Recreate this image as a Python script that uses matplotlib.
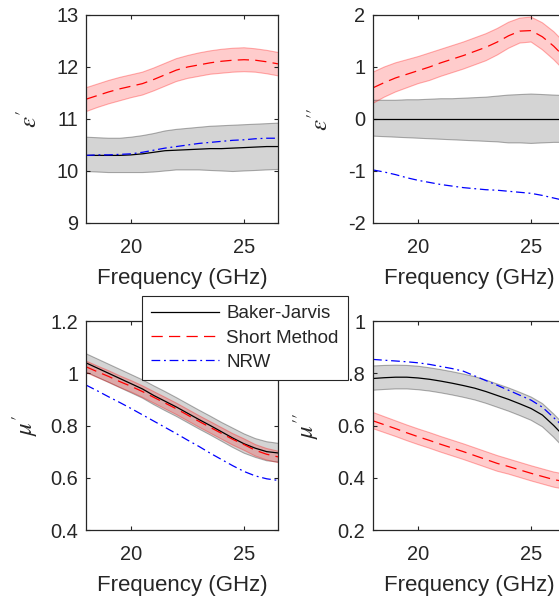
"""Four-panel permittivity / permeability comparison (K-band, 18-26.5 GHz)."""
import matplotlib
matplotlib.use("Agg")
import matplotlib.pyplot as plt
import numpy as np

# frequency grid (GHz)
freq = [18, 18.5, 19, 19.5, 20, 20.5, 21, 21.5, 22, 22.5,
        23, 23.5, 24, 24.5, 25, 25.5, 26, 26.5]

# --- eps' ---
eps1_bj = [10.30, 10.30, 10.30, 10.30, 10.31, 10.33, 10.36, 10.39, 10.40, 10.41,
           10.42, 10.43, 10.43, 10.44, 10.45, 10.46, 10.47, 10.47]
eps1_bj_hi = [10.65, 10.64, 10.63, 10.63, 10.65, 10.68, 10.72, 10.77, 10.80, 10.82,
              10.84, 10.86, 10.87, 10.88, 10.89, 10.90, 10.91, 10.92]
eps1_bj_lo = [9.99, 9.98, 9.97, 9.97, 9.97, 9.97, 9.98, 10.00, 10.02, 10.02,
              10.02, 10.01, 10.00, 9.99, 10.00, 10.01, 10.02, 10.03]
eps1_sm = [11.38, 11.45, 11.52, 11.58, 11.63, 11.68, 11.76, 11.85, 11.94, 12.00,
           12.04, 12.08, 12.11, 12.13, 12.14, 12.13, 12.10, 12.06]
eps1_sm_hi = [11.60, 11.67, 11.74, 11.80, 11.85, 11.90, 11.98, 12.07, 12.16, 12.22,
              12.27, 12.31, 12.34, 12.36, 12.37, 12.35, 12.32, 12.28]
eps1_sm_lo = [11.14, 11.22, 11.29, 11.35, 11.41, 11.46, 11.54, 11.63, 11.72, 11.78,
              11.82, 11.86, 11.88, 11.90, 11.91, 11.90, 11.87, 11.83]
eps1_nrw = [10.30, 10.31, 10.31, 10.32, 10.33, 10.36, 10.40, 10.44, 10.47, 10.50,
            10.53, 10.55, 10.57, 10.59, 10.60, 10.62, 10.63, 10.63]

# --- eps'' ---
eps2_bj = [0.0] * 18
eps2_bj_hi = [0.36, 0.36, 0.36, 0.37, 0.37, 0.38, 0.39, 0.39, 0.40, 0.41,
              0.42, 0.44, 0.46, 0.47, 0.48, 0.47, 0.46, 0.45]
eps2_bj_lo = [-0.33, -0.34, -0.35, -0.36, -0.37, -0.38, -0.39, -0.40, -0.41, -0.42,
              -0.43, -0.44, -0.46, -0.46, -0.47, -0.46, -0.45, -0.45]
eps2_sm = [0.60, 0.70, 0.79, 0.86, 0.93, 1.00, 1.08, 1.15, 1.22, 1.30,
           1.38, 1.48, 1.60, 1.69, 1.70, 1.58, 1.40, 1.18]
eps2_sm_hi = [0.90, 1.00, 1.08, 1.14, 1.20, 1.27, 1.34, 1.41, 1.48, 1.56,
              1.64, 1.74, 1.86, 1.94, 1.96, 1.85, 1.68, 1.46]
eps2_sm_lo = [0.30, 0.42, 0.52, 0.60, 0.68, 0.74, 0.82, 0.89, 0.96, 1.04,
              1.12, 1.23, 1.36, 1.46, 1.48, 1.33, 1.14, 0.92]
eps2_nrw = [-0.98, -1.02, -1.07, -1.13, -1.18, -1.22, -1.26, -1.29, -1.32, -1.34,
            -1.36, -1.37, -1.39, -1.41, -1.43, -1.47, -1.52, -1.57]

# --- mu' ---
mu1_bj = [1.040, 1.020, 1.000, 0.980, 0.960, 0.940, 0.915, 0.893, 0.871, 0.847,
          0.823, 0.800, 0.776, 0.752, 0.730, 0.713, 0.700, 0.695]
mu1_bj_hi = [1.075, 1.055, 1.035, 1.015, 0.995, 0.975, 0.952, 0.930, 0.907, 0.883,
             0.859, 0.836, 0.812, 0.790, 0.768, 0.750, 0.738, 0.732]
mu1_bj_lo = [1.005, 0.985, 0.965, 0.945, 0.925, 0.905, 0.880, 0.857, 0.835, 0.811,
             0.787, 0.764, 0.740, 0.716, 0.694, 0.678, 0.665, 0.660]
mu1_sm = [1.025, 1.006, 0.988, 0.968, 0.950, 0.930, 0.908, 0.886, 0.864, 0.840,
          0.816, 0.793, 0.770, 0.747, 0.727, 0.705, 0.690, 0.680]
mu1_sm_hi = [1.047, 1.028, 1.010, 0.990, 0.972, 0.952, 0.930, 0.908, 0.886, 0.862,
             0.838, 0.815, 0.792, 0.769, 0.749, 0.727, 0.712, 0.702]
mu1_sm_lo = [1.003, 0.984, 0.966, 0.946, 0.928, 0.908, 0.886, 0.864, 0.842, 0.818,
             0.794, 0.771, 0.748, 0.725, 0.705, 0.683, 0.668, 0.658]
mu1_nrw = [0.955, 0.933, 0.910, 0.888, 0.865, 0.841, 0.817, 0.793, 0.769, 0.744,
           0.720, 0.694, 0.670, 0.646, 0.624, 0.607, 0.596, 0.590]

# --- mu'' ---
mu2_bj = [0.780, 0.783, 0.785, 0.785, 0.782, 0.777, 0.770, 0.762, 0.753, 0.743,
          0.730, 0.715, 0.700, 0.683, 0.665, 0.640, 0.600, 0.555]
mu2_bj_hi = [0.828, 0.830, 0.831, 0.830, 0.827, 0.821, 0.814, 0.806, 0.797, 0.787,
             0.774, 0.759, 0.744, 0.727, 0.709, 0.684, 0.644, 0.600]
mu2_bj_lo = [0.735, 0.738, 0.740, 0.740, 0.737, 0.732, 0.725, 0.717, 0.708, 0.698,
             0.685, 0.670, 0.655, 0.638, 0.620, 0.595, 0.555, 0.510]
mu2_sm = [0.618, 0.603, 0.588, 0.572, 0.557, 0.543, 0.528, 0.514, 0.500, 0.485,
          0.470, 0.455, 0.443, 0.430, 0.417, 0.405, 0.393, 0.385]
mu2_sm_hi = [0.650, 0.634, 0.618, 0.602, 0.587, 0.573, 0.558, 0.544, 0.530, 0.515,
             0.500, 0.485, 0.472, 0.459, 0.446, 0.434, 0.422, 0.414]
mu2_sm_lo = [0.588, 0.573, 0.558, 0.542, 0.527, 0.513, 0.498, 0.484, 0.470, 0.455,
             0.440, 0.425, 0.414, 0.401, 0.388, 0.376, 0.364, 0.356]
mu2_nrw = [0.853, 0.850, 0.847, 0.844, 0.840, 0.834, 0.826, 0.818, 0.808, 0.790,
           0.772, 0.754, 0.735, 0.716, 0.697, 0.670, 0.630, 0.590]

series_names = ["Baker-Jarvis", "Short Method", "NRW"]

panels = [
    # (position, ylabel, ylim, yticks, bj, bj_hi, bj_lo, sm, sm_hi, sm_lo, nrw, ylabel x)
    ([0.1538, 0.6308, 0.3435, 0.3444], r"$\epsilon'$", (9, 13), [9, 10, 11, 12, 13],
     eps1_bj, eps1_bj_hi, eps1_bj_lo, eps1_sm, eps1_sm_hi, eps1_sm_lo, eps1_nrw, -0.23),
    ([0.6673, 0.6308, 0.3435, 0.3444], r"$\epsilon''$", (-2, 2), [-2, -1, 0, 1, 2],
     eps2_bj, eps2_bj_hi, eps2_bj_lo, eps2_sm, eps2_sm_hi, eps2_sm_lo, eps2_nrw, -0.21),
    ([0.1538, 0.1225, 0.3435, 0.3460], r"$\mu'$", (0.4, 1.2), [0.4, 0.6, 0.8, 1.0, 1.2],
     mu1_bj, mu1_bj_hi, mu1_bj_lo, mu1_sm, mu1_sm_hi, mu1_sm_lo, mu1_nrw, -0.24),
    ([0.6673, 0.1225, 0.3435, 0.3460], r"$\mu''$", (0.2, 1.0), [0.2, 0.4, 0.6, 0.8, 1.0],
     mu2_bj, mu2_bj_hi, mu2_bj_lo, mu2_sm, mu2_sm_hi, mu2_sm_lo, mu2_nrw, -0.27),
]

TXT = "#262626"
plt.rcParams["font.family"] = ["Liberation Sans", "DejaVu Sans"]
plt.rcParams["mathtext.fontset"] = "stix"
plt.rcParams["axes.unicode_minus"] = False

fig = plt.figure(figsize=(5.59, 6.04), dpi=100)
handles = None
for (pos, ylab, ylim, yt, bj, bjh, bjl, sm, smh, sml, nrw, lx) in panels:
    ax = fig.add_axes(pos)
    ax.fill_between(freq, bjl, bjh, facecolor="k", alpha=0.17, lw=0)
    ax.plot(freq, bjh, color="k", alpha=0.3, lw=0.8)
    ax.plot(freq, bjl, color="k", alpha=0.3, lw=0.8)
    ax.fill_between(freq, sml, smh, facecolor="r", alpha=0.2, lw=0)
    ax.plot(freq, smh, color="r", alpha=0.3, lw=0.8)
    ax.plot(freq, sml, color="r", alpha=0.3, lw=0.8)
    h1, = ax.plot(freq, bj, color="k", lw=0.9)
    h2, = ax.plot(freq, sm, color="r", lw=0.9, linestyle=(0, (9, 5)))
    h3, = ax.plot(freq, nrw, color="b", lw=0.9, linestyle=(0, (7, 3, 1.5, 3)))
    handles = [h1, h2, h3]

    ax.set_xlim(18, 26.5)
    ax.set_ylim(*ylim)
    ax.set_xticks([20, 25])
    ax.set_yticks(yt)
    ax.set_yticklabels([f"{v:g}" for v in yt])
    ax.tick_params(direction="in", top=True, right=True, length=3, width=0.8,
                   labelsize=14.4, colors=TXT)
    ax.tick_params(axis="x", pad=11)
    ax.tick_params(axis="y", pad=5.5)
    for s in ax.spines.values():
        s.set_color(TXT)
        s.set_linewidth(0.9)
    ax.set_xlabel("Frequency (GHz)", fontsize=16, color=TXT, labelpad=8)
    ax.set_ylabel(ylab, fontsize=18, color=TXT)
    ax.yaxis.set_label_coords(lx, 0.5)

leg = fig.legend(handles, series_names, loc="upper left",
                 bbox_to_anchor=(0.254, 0.51), borderaxespad=0,
                 fontsize=13.5, frameon=True, fancybox=False, framealpha=1,
                 edgecolor=TXT, handlelength=3.6, handletextpad=0.4,
                 borderpad=0.5, labelspacing=0.38)
leg.get_frame().set_linewidth(0.8)
for t in leg.get_texts():
    t.set_color(TXT)

fig.savefig("out.png", dpi=100)
